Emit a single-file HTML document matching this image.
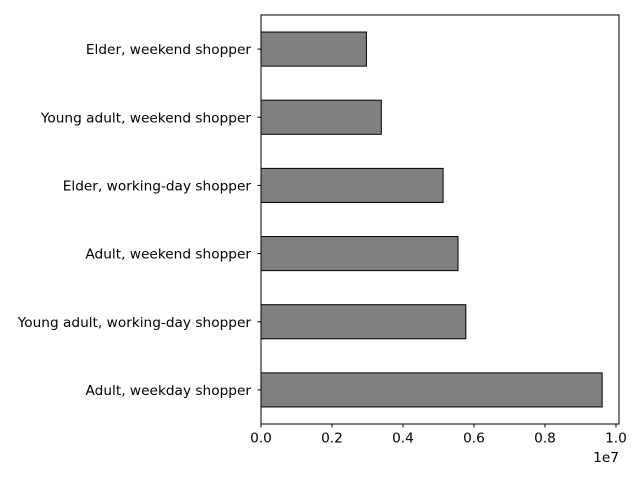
<!DOCTYPE html>
<html><head><meta charset="utf-8"><style>
html,body{margin:0;padding:0;background:#fff;}
svg{display:block;font-family:"DejaVu Sans","Liberation Sans",sans-serif;}
</style></head><body>
<svg id="chart" width="640" height="480"></svg>
<script>
const categories = ["Elder, weekend shopper","Young adult, weekend shopper","Elder, working-day shopper","Adult, weekend shopper","Young adult, working-day shopper","Adult, weekday shopper"];
const values = [2970000, 3390000, 5130000, 5550000, 5770000, 9610000];
const tickValues = [0, 0.2, 0.4, 0.6, 0.8, 1.0];
const tickLabels = ["0.0","0.2","0.4","0.6","0.8","1.0"];

const NS = "http://www.w3.org/2000/svg";
const svg = document.getElementById("chart");
const L = 261, R = 619, T = 15, B = 424;
const xMax = 1.0085e7;
const xs = v => L + (v / xMax) * (R - L);
const step = (B - T) / categories.length;
const yc = i => T + step * (i + 0.5);
function mk(tag, attrs, parent) {
  const e = document.createElementNS(NS, tag);
  for (const k in attrs) e.setAttribute(k, attrs[k]);
  (parent || svg).appendChild(e);
  return e;
}
const bars = mk("g", {});


values.forEach((v, i) => {
  const r = mk("rect", {x: L, y: yc(i) - step * 0.25, width: xs(v) - L, height: step * 0.5, fill: "#808080", stroke: "#000", "stroke-width": 1}, bars);
  
  
});
const frame = mk("rect", {x: L, y: T, width: R - L, height: B - T, fill: "none", stroke: "#000", "stroke-width": 1});


categories.forEach((c, i) => {
  mk("line", {x1: L - 3.5, x2: L, y1: yc(i), y2: yc(i), stroke: "#000"});
  const t = mk("text", {x: L - 10, y: yc(i) + 5, "text-anchor": "end", "font-size": 13.7});
  t.textContent = c;
  
  
});
tickValues.forEach((v, i) => {
  const x = xs(v * 1e7);
  mk("line", {x1: x, x2: x, y1: B, y2: B + 3.5, stroke: "#000"});
  const t = mk("text", {x: x, y: B + 18.5, "text-anchor": "middle", "font-size": 13.7});
  t.textContent = tickLabels[i];
  
  
});
const off = mk("text", {x: R, y: B + 38, "text-anchor": "end", "font-size": 13.7});
off.textContent = "1e7";


</script>
</body></html>
